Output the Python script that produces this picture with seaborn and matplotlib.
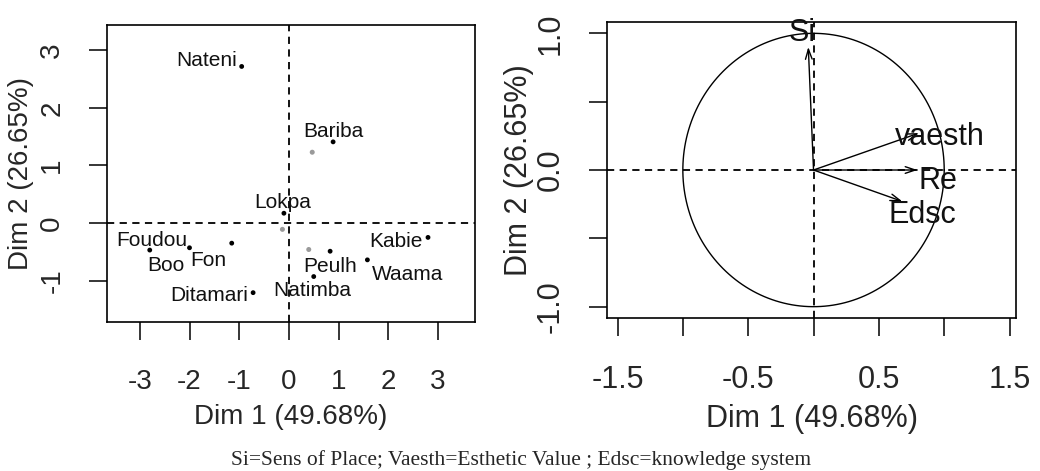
import numpy as np
import pandas as pd
import matplotlib
matplotlib.use("Agg")
import matplotlib.pyplot as plt
import seaborn as sns

# individuals (factor map)
ind_names = ["Nateni", "Bariba", "Lokpa", "Foudou", "Boo", "Fon", "Ditamari",
             "Natimba", "Peulh", "Kabie", "Waama"]
ind_dim1 = [-0.95, 0.89, -0.10, -2.00, -2.80, -1.15, -0.72, 0.50, 0.83, 2.80, 1.58]
ind_dim2 = [2.72, 1.41, 0.17, -0.43, -0.47, -0.35, -1.21, -0.93, -0.49, -0.25, -0.64]

# grey points
sup_dim1 = [0.47, -0.13, 0.40]
sup_dim2 = [1.23, -0.11, -0.46]

# variables (correlation circle)
var_names = ["Si", "vaesth", "Re", "Edsc"]
var_dim1 = [-0.04, 0.807, 0.795, 0.68]
var_dim2 = [0.90, 0.27, 0.0, -0.23]

xlab = "Dim 1 (49.68%)"
ylab = "Dim 2 (26.65%)"
caption = "Si=Sens of Place; Vaesth=Esthetic Value ; Edsc=knowledge system"

sns.set_style("white")
plt.rcParams["font.family"] = ["Liberation Sans", "DejaVu Sans"]
plt.rcParams["axes.unicode_minus"] = False

fig = plt.figure(figsize=(10.4, 4.71), dpi=100)
ax1 = fig.add_axes([0.1029, 0.3163, 0.3538, 0.6306])
ax2 = fig.add_axes([0.5837, 0.3248, 0.3933, 0.6285])

ind = pd.DataFrame({"name": ind_names, "d1": ind_dim1, "d2": ind_dim2})
sup = pd.DataFrame({"d1": sup_dim1, "d2": sup_dim2})

# ---- left: individuals
ax1.axhline(0, color="black", lw=1.3, ls=(0, (4, 3)), zorder=1)
ax1.axvline(0, color="black", lw=1.3, ls=(0, (4, 3)), zorder=1)
sns.scatterplot(data=sup, x="d1", y="d2", ax=ax1, color="#9a9a9a", s=13,
                edgecolor="none", zorder=2)
sns.scatterplot(data=ind, x="d1", y="d2", ax=ax1, color="black", s=12,
                edgecolor="none", zorder=3)

# label offsets in pixels (dx, dy) from the point
ind_off = {"Nateni": (-35, 6), "Bariba": (0, 10), "Lokpa": (-1, 11),
           "Foudou": (-38, 7), "Boo": (16, -15), "Fon": (-23, -17),
           "Ditamari": (-44, -3), "Natimba": (-1, -14), "Peulh": (0, -15),
           "Kabie": (-32, -4), "Waama": (40, -15)}
for _, r in ind.iterrows():
    dx, dy = ind_off[r["name"]]
    ax1.annotate(r["name"], (r["d1"], r["d2"]), xytext=(dx * 0.72, dy * 0.72),
                 textcoords="offset points", ha="center", va="center",
                 fontsize=15, color="#111111", zorder=4)

ax1.set_xlim(-3.66, 3.745)
ax1.set_ylim(-1.72, 3.44)
ax1.set_xticks(range(-3, 4))
ax1.set_yticks(range(-1, 4))

# ---- right: correlation circle
t = np.linspace(0, 2 * np.pi, 200)
circ = pd.DataFrame({"x": np.cos(t), "y": np.sin(t)})
sns.lineplot(data=circ, x="x", y="y", sort=False, ax=ax2, color="black",
             lw=1.0, estimator=None)
ax2.axhline(0, color="black", lw=1.3, ls=(0, (4, 3)), zorder=1)
ax2.axvline(0, color="black", lw=1.3, ls=(0, (4, 3)), zorder=1)

var_off = {"Si": (-0.047, 0.10), "vaesth": (0.16, -0.03), "Re": (0.155, -0.08),
           "Edsc": (0.15, -0.10)}
for n, x, y in zip(var_names, var_dim1, var_dim2):
    ax2.annotate("", xy=(x, y), xytext=(0, 0),
                 arrowprops=dict(arrowstyle="->,head_length=0.6,head_width=0.2",
                                 lw=1.0, color="black", shrinkA=0, shrinkB=0,
                                 mutation_scale=12))
    ox, oy = var_off[n]
    ax2.text(x + ox, y + oy, n, ha="center", va="center", fontsize=22,
             color="#111111")

ax2.set_xlim(-1.58, 1.55)
ax2.set_ylim(-1.083, 1.083)
ax2.set_xticks(np.arange(-1.5, 1.51, 0.5))
ax2.set_xticklabels(["-1.5", "", "-0.5", "", "0.5", "", "1.5"])
ax2.set_yticks(np.arange(-1.0, 1.01, 0.5))
ax2.set_yticklabels(["-1.0", "", "0.0", "", "1.0"])

for ax, fs, ylp in [(ax1, 20, 4), (ax2, 22, 1)]:
    for sp in ax.spines.values():
        sp.set_color("black")
        sp.set_linewidth(1.2)
    ax.tick_params(axis="both", direction="out", length=13, width=1.1,
                   color="black", labelsize=fs, pad=17, bottom=True, left=True)
    ax.tick_params(axis="x", pad=21)
    ax.tick_params(axis="y", labelrotation=90)
    for lb in ax.get_yticklabels():
        lb.set_va("center")
    ax.set_xlabel(xlab, fontsize=fs, labelpad=6)
    ax.set_ylabel(ylab, fontsize=fs, labelpad=ylp)

fig.text(0.501, 0.023, caption, ha="center", va="center", fontsize=15.5,
         family=["Liberation Serif", "DejaVu Serif"])

fig.savefig("out.png", dpi=100)
